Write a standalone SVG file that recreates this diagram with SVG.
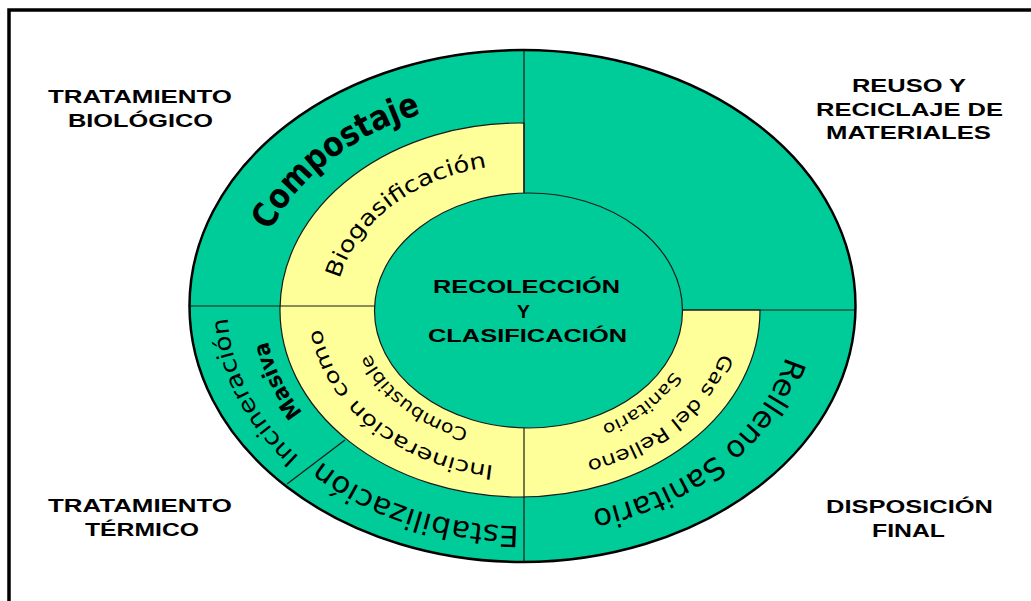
<svg xmlns="http://www.w3.org/2000/svg" width="1031" height="601" viewBox="0 0 1031 601">
<style>
.g{fill:#00CC99}
.y{fill:#FFFF99}
.edge{fill:none;stroke:#1a1a1a;stroke-width:1.2}
.lbl{font-family:"Liberation Sans",Arial,sans-serif;font-weight:bold;font-size:19px;fill:#000}
.arc{font-family:"DejaVu Sans",sans-serif;fill:#000}
</style>
<defs>
<path id="pA" d="M 254.4 276.7 A 270.6 209.1 0 0 1 468.5 103.0"/>
<path id="pB" d="M 335.3 312.5 A 188.7 145.6 0 0 1 520.7 164.4"/>
<path id="pC" d="M 793.1 298.9 A 271.4 209.7 0 0 1 533.8 517.5"/>
<path id="pD" d="M 619.5 512.7 A 282.3 218.1 0 0 1 257.1 383.3"/>
<path id="pE" d="M 336.2 484.6 A 294.6 227.6 0 0 1 231.1 272.0"/>
<path id="pF" d="M 354.6 459.4 A 257.7 199.1 0 0 1 268.6 271.7"/>
<path id="pG" d="M 532.9 467.2 A 203.9 157.3 0 0 1 321.8 289.5"/>
<path id="pH" d="M 530.3 436.7 A 164.3 126.8 0 0 1 361.2 292.8"/>
<path id="pI" d="M 728.6 301.7 A 204.9 158.1 0 0 1 534.7 467.9"/>
<path id="pJ" d="M 692.6 303.9 A 168.8 130.3 0 0 1 532.0 440.2"/>
</defs>
<rect x="0" y="0" width="1031" height="601" fill="#fff"/>
<rect id="frame" x="9" y="10" width="1050" height="640" fill="none" stroke="#000" stroke-width="3.5"/>

<g id="outer-ring">
<ellipse class="g" cx="522.5" cy="306" rx="333" ry="256" stroke="#000" stroke-width="2.5"/>
</g>
<g id="middle-ring">
<path class="edge" d="M 524 123.03 A 240 187 0 1 0 760 310 L 524 310 Z" style="fill:#FFFF99"/>
</g>
<g id="center">
<ellipse class="g" cx="528.5" cy="310.5" rx="154" ry="117.5" stroke="#1a1a1a" stroke-width="1.2"/>
<text class="lbl" x="433" y="293" textLength="187" lengthAdjust="spacingAndGlyphs">RECOLECCIÓN</text>
<text class="lbl" x="517" y="318" textLength="13" lengthAdjust="spacingAndGlyphs">Y</text>
<text class="lbl" x="428" y="342" textLength="199" lengthAdjust="spacingAndGlyphs">CLASIFICACIÓN</text>
</g>

<g id="connectors">
<line class="edge" x1="524" y1="50" x2="524" y2="193"/>
<line class="edge" x1="524" y1="428" x2="524" y2="562"/>
<line class="edge" x1="190" y1="306" x2="375" y2="306"/>
<line class="edge" x1="682" y1="310" x2="855" y2="310"/>
<line class="edge" x1="345" y1="440" x2="287" y2="484"/>
</g>

<g id="tratamiento-biologico">
<text class="lbl" x="48" y="103" textLength="184" lengthAdjust="spacingAndGlyphs">TRATAMIENTO</text>
<text class="lbl" x="68" y="127" textLength="145" lengthAdjust="spacingAndGlyphs">BIOLÓGICO</text>
<text class="arc" font-size="34" font-weight="bold"><textPath href="#pA" startOffset="50%" text-anchor="middle" textLength="196" lengthAdjust="spacingAndGlyphs">Compostaje</textPath></text>
<text class="arc" font-size="22"><textPath href="#pB" startOffset="50%" text-anchor="middle" textLength="195" lengthAdjust="spacingAndGlyphs">Biogasificación</textPath></text>
</g>

<g id="reuso-reciclaje">
<text class="lbl" x="852" y="92" textLength="114" lengthAdjust="spacingAndGlyphs">REUSO Y</text>
<text class="lbl" x="816" y="116" textLength="187" lengthAdjust="spacingAndGlyphs">RECICLAJE DE</text>
<text class="lbl" x="826" y="139" textLength="165" lengthAdjust="spacingAndGlyphs">MATERIALES</text>
</g>

<g id="disposicion-final">
<text class="lbl" x="826" y="513" textLength="167" lengthAdjust="spacingAndGlyphs">DISPOSICIÓN</text>
<text class="lbl" x="872" y="537" textLength="73" lengthAdjust="spacingAndGlyphs">FINAL</text>
<text class="arc" font-size="30"><textPath href="#pC" startOffset="50%" text-anchor="middle" textLength="260" lengthAdjust="spacingAndGlyphs">Relleno Sanitario</textPath></text>
<text class="arc" font-size="19"><textPath href="#pI" startOffset="50%" text-anchor="middle" textLength="179" lengthAdjust="spacingAndGlyphs">Gas del Relleno</textPath></text>
<text class="arc" font-size="17"><textPath href="#pJ" startOffset="50%" text-anchor="middle" textLength="91" lengthAdjust="spacingAndGlyphs">Sanitario</textPath></text>
</g>

<g id="tratamiento-termico">
<text class="lbl" x="48" y="512" textLength="184" lengthAdjust="spacingAndGlyphs">TRATAMIENTO</text>
<text class="lbl" x="85" y="536" textLength="114" lengthAdjust="spacingAndGlyphs">TÉRMICO</text>
<text class="arc" font-size="29"><textPath href="#pD" startOffset="50%" text-anchor="middle" textLength="212" lengthAdjust="spacingAndGlyphs">Estabilización</textPath></text>
<text class="arc" font-size="23"><textPath href="#pE" startOffset="50%" text-anchor="middle" textLength="161" lengthAdjust="spacingAndGlyphs">Incineración</textPath></text>
<text class="arc" font-size="22" font-weight="bold"><textPath href="#pF" startOffset="50%" text-anchor="middle" textLength="80" lengthAdjust="spacingAndGlyphs">Masiva</textPath></text>
<text class="arc" font-size="20"><textPath href="#pG" startOffset="50%" text-anchor="middle" textLength="236" lengthAdjust="spacingAndGlyphs">Incineración como</textPath></text>
<text class="arc" font-size="18"><textPath href="#pH" startOffset="50%" text-anchor="middle" textLength="128" lengthAdjust="spacingAndGlyphs">Combustible</textPath></text>
</g>
</svg>
